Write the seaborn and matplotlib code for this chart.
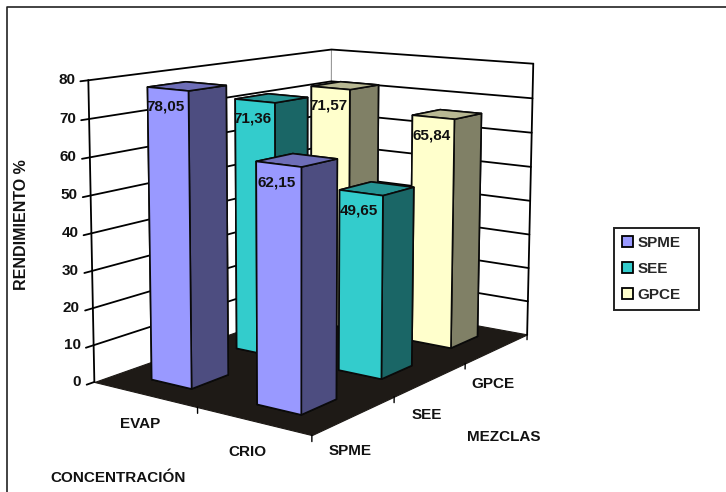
import numpy as np
import pandas as pd
import seaborn as sns
import matplotlib
matplotlib.use("Agg")
import matplotlib.pyplot as plt
from matplotlib.lines import Line2D
from matplotlib.patches import Patch
from mpl_toolkits.mplot3d.art3d import Poly3DCollection

# Yield (%) by concentration method and extraction mixture
concentracion = ["EVAP", "CRIO"]
mezclas = ["SPME", "SEE", "GPCE"]
evap_values = [78.05, 71.36, 71.57]
crio_values = [62.15, 49.65, 65.84]
z_ticks = [0, 10, 20, 30, 40, 50, 60, 70, 80]
colours = ["#9999FF", "#33CCCC", "#FFFFCC"]

W, H = 726, 492
BAR_DX, BAR_DY = 0.39, 0.42
FLOOR = "#1E1A16"
FONT = "Liberation Sans"
FS = 11.0

sns.set_theme(style="white", font=FONT)
palette = sns.color_palette(colours)

table = pd.DataFrame(
    {"EVAP": evap_values, "CRIO": crio_values}, index=mezclas
).melt(ignore_index=False, var_name="concentracion", value_name="rendimiento")

fig = plt.figure(figsize=(W / 100, H / 100), dpi=100, facecolor="white")
ax = fig.add_axes([0, -(W - H) / 2 / H, 1, W / H], projection="3d")
ax.computed_zorder = False
ax.set_axis_off()
ax.patch.set_visible(False)
ax.apply_aspect()


def camera_matrix():
    """Perspective camera solved from where the chart box lands on the canvas."""
    anchors = [
        ((0, 0, 0), (95, 383)), ((1, 0, 0), (198, 407)), ((2, 0, 0), (312, 435)),
        ((2, 1, 0), (394, 396)), ((2, 2, 0), (464, 364)), ((2, 3, 0), (528, 335)),
        ((0, 3, 0), (330, 298)), ((0, 0, 80), (88, 80)), ((0, 3, 80), (332, 50)),
        ((2, 3, 80), (533, 64)), ((0, 0, 40), (91, 233)), ((2, 3, 40), (530.5, 200)),
    ]
    rows = []
    inverse = ax.transData.inverted()
    for (x, y, z), (px, py) in anchors:
        u, v = inverse.transform((px, H - py))
        # z is rescaled so the system stays well conditioned
        world = np.array([x, y, z / 40, 1.0])
        rows.append(np.r_[world, np.zeros(4), -u * world])
        rows.append(np.r_[np.zeros(4), world, -v * world])
    p = np.linalg.svd(np.array(rows))[2][-1].reshape(3, 4)
    p[:, 2] /= 40
    p /= p[2] @ np.array([1, 1.5, 40, 1.0])
    # tz = -1/w keeps everything in front of the camera and grows with distance
    depth = np.array([0, 0, 0, -1.0])
    return np.vstack([p[0], p[1], depth, p[2]])


M = camera_matrix()
ax.get_proj = lambda: M
ax.M = M


def project(x, y, z):
    v = M @ np.array([x, y, z, 1.0])
    return v[0] / v[3], v[1] / v[3]


def label(text, xyz, dx, dy, **kw):
    ax.annotate(text, xy=project(*xyz), xytext=(dx, dy), textcoords="offset pixels",
                ha=kw.pop("ha", "center"), va="center", fontsize=FS,
                fontfamily=FONT, color="#111111", zorder=30, **kw)


# Floor
floor = Poly3DCollection([[(0, 0, 0), (2, 0, 0), (2, 3, 0), (0, 3, 0)]],
                         facecolor=FLOOR, edgecolor=FLOOR, linewidth=0.8, zorder=1)
ax.add_collection3d(floor)

# Walls and gridlines
for z in z_ticks[1:]:
    ax.plot([0, 0, 2], [0, 3, 3], [z, z, z], color="black", lw=1.3, zorder=1.5)
ax.plot([0, 0], [3, 3], [0, 80], color="#999999", lw=0.8, zorder=1.4)
ax.plot([0, 0], [0, 0], [0, 80], color="black", lw=1.3, zorder=1.6)
ax.plot([2, 2], [3, 3], [0, 80], color="black", lw=1.3, zorder=1.6)

# Axis ticks
for z in z_ticks:
    ax.plot([0, 0], [-0.08, 0], [z, z], color="black", lw=1.3, zorder=1.6)
    label(str(z), (0, 0, z), -13, 0, ha="right", fontweight="bold")
for x in (1, 2):
    ax.plot([x, x], [0, 0], [-1.6, 0], color="black", lw=1.0, zorder=1.6)
for y in (1, 2, 3):
    ax.plot([2, 2], [y, y], [-1.6, 0], color="black", lw=1.0, zorder=1.6)

for i, name in enumerate(concentracion):
    label(name, (i + 0.5, 0, 0), (-5 if i == 0 else -6), (-30 if i == 0 else -31),
          fontweight="bold")
for j, name in enumerate(mezclas):
    label(name, (2, j + 0.5, 0), -4, -36, fontweight="bold")

# Bars, drawn from the back row forwards
for (mezcla, row) in table.iterrows():
    j = mezclas.index(mezcla)
    i = concentracion.index(row["concentracion"])
    value = row["rendimiento"]
    base = np.array(palette[j])
    light, side, top = tuple(base), tuple(base * 0.5), tuple(base * 0.72)
    x0 = i + (1 - BAR_DX) / 2
    y0 = j + (1 - BAR_DY) / 2
    bar = ax.bar3d(x0, y0, 0, BAR_DX, BAR_DY, value, shade=False,
                   color=[side, top, light, side, side, side],
                   edgecolor="#0A0A0A", linewidth=1.2, zsort="average")
    bar.set_zorder(10 + (len(mezclas) - j) * 3 + i)
    label(f"{value:.2f}".replace(".", ","), (x0 + BAR_DX / 2, y0, value), -2, -18,
          fontweight="bold")

# Axis titles
fig.text(22 / W, 1 - 225 / H, "RENDIMIENTO %", rotation=90, ha="center", va="center",
         fontsize=11.5, fontweight="bold", color="#111111", family=FONT)
fig.text(50 / W, 1 - 478 / H, "CONCENTRACIÓN", ha="left", va="center",
         fontsize=FS, fontweight="bold", color="#111111", family=FONT)
fig.text(504 / W, 1 - 437 / H, "MEZCLAS", ha="center", va="center",
         fontsize=FS, fontweight="bold", color="#111111", family=FONT)

# Outer frame, open on the right and at the bottom
fig.add_artist(Line2D([7 / W, 7 / W, 1], [0, 1 - 7 / H, 1 - 7 / H],
                      transform=fig.transFigure, color="#222222", lw=1.2))

handles = [Patch(facecolor=c, edgecolor="black", linewidth=1.3) for c in palette]
legend = fig.legend(handles, mezclas, loc="upper left",
                    bbox_to_anchor=(614 / W, 1 - 312 / H, 85 / W, 84 / H), mode="expand",
                    borderaxespad=0, fancybox=False, framealpha=1, edgecolor="#222222",
                    prop={"family": FONT, "weight": "bold", "size": FS},
                    handlelength=0.72, handleheight=0.72, handletextpad=0.3,
                    labelspacing=0.8, borderpad=0.5)
legend.get_frame().set_linewidth(1.4)

fig.savefig("out.png", dpi=100)
